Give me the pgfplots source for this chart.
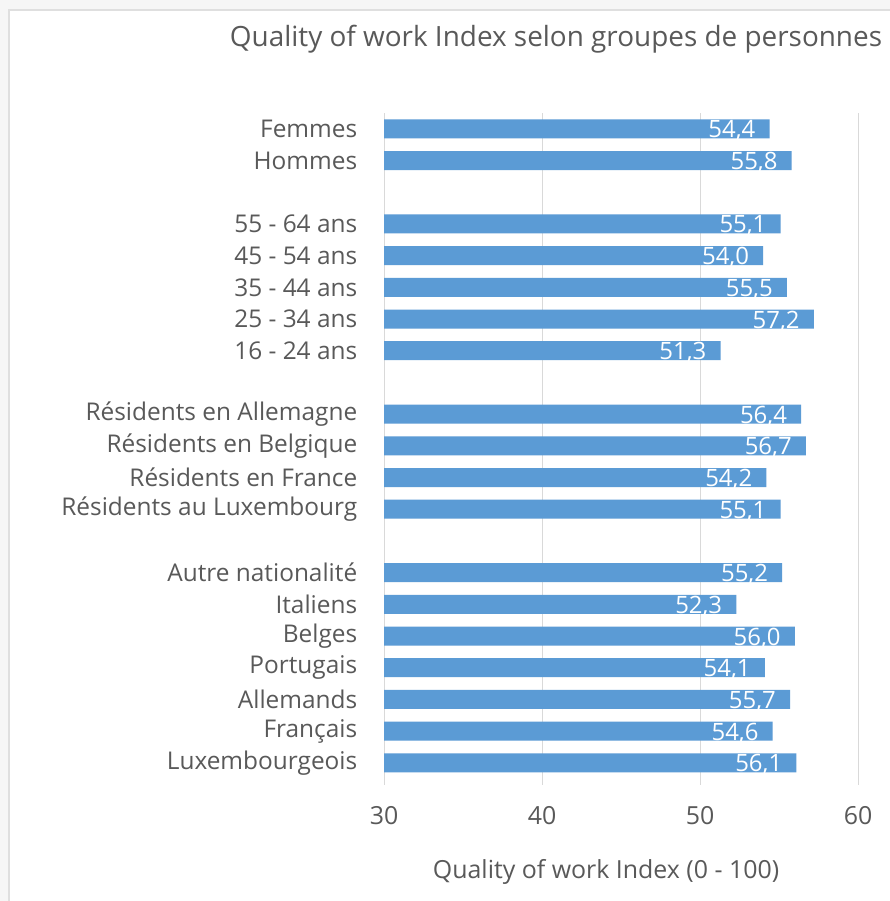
\documentclass[border=0pt]{standalone}
\usepackage{pgfplots}
\pgfplotsset{compat=1.18}
\usepackage{fontspec}
\setmainfont{Open Sans}
\definecolor{barblue}{HTML}{5B9BD5}
\definecolor{txt}{HTML}{595959}
\definecolor{gridc}{HTML}{D9D9D9}
\begin{document}
\begin{tikzpicture}[x=1bp,y=1bp]
\useasboundingbox (0,0) rectangle (890,901);
\fill[gray!7] (0,0) rectangle (890,901);
\draw[gray!25, fill=white, line width=1.5bp] (9,-20) rectangle (910,891);
\begin{axis}[
  at={(384bp,116bp)}, anchor=south west,
  scale only axis, width=474bp, height=672bp,
  xmin=30, xmax=60, ymin=-0.7, ymax=20.5,
  xtick={30,40,50,60},
  ytick={0,1,2,3,4,5,6,8,9,10,11,13,14,15,16,17,19,20},
  yticklabels={Luxembourgeois,Français,Allemands,Portugais,Belges,Italiens,Autre nationalité,
    Résidents au Luxembourg,Résidents en France,Résidents en Belgique,Résidents en Allemagne,
    16 - 24 ans,25 - 34 ans,35 - 44 ans,45 - 54 ans,55 - 64 ans,Hommes,Femmes},
  /pgf/number format/assume math mode=true,
  axis line style={draw=none},
  tick style={draw=none},
  xmajorgrids, grid style={gridc, line width=1bp},
  ticklabel style={text=txt},
  yticklabel style={font=\fontsize{24.5}{26}\selectfont, xshift=-19bp},
  xticklabel style={font=\fontsize{25}{27}\selectfont, yshift=-18bp},
  xbar, bar width=19bp, bar shift=0pt,
  point meta=x,
  nodes near coords={\pgfmathprintnumber[fixed,fixed zerofill,precision=1,use comma]{\pgfplotspointmeta}},
  every node near coord/.append style={anchor=base east, xshift=-13bp, yshift=-9bp, text=white, font=\fontsize{24}{26}\selectfont, inner sep=1bp},
]
\addplot[fill=barblue, draw=none] coordinates {
(56.1,0) (54.6,1) (55.7,2) (54.1,3) (56.0,4) (52.3,5) (55.2,6)
(55.1,8) (54.2,9) (56.7,10) (56.4,11)
(51.3,13) (57.2,14) (55.5,15) (54.0,16) (55.1,17)
(55.8,19) (54.4,20)
};
\end{axis}
\node[anchor=base, text=txt, font=\fontsize{28}{32}\selectfont] at (556,854) {Quality of work Index selon groupes de personnes};
\node[anchor=center, text=txt, font=\fontsize{25}{28}\selectfont] at (606,29) {Quality of work Index (0 - 100)};
\end{tikzpicture}
\end{document}
